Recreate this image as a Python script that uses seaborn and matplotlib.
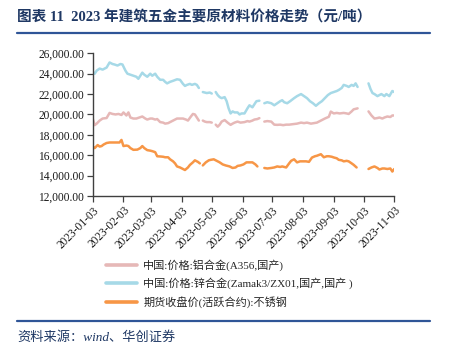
import numpy as np
import pandas as pd
import matplotlib
matplotlib.use("Agg")
import matplotlib.pyplot as plt
import matplotlib.dates as mdates
from matplotlib.lines import Line2D
from matplotlib.ticker import FuncFormatter
import seaborn as sns

# ---------------- data (None marks a break in the line) ----------------
zinc_dates = ["01-03","01-05","01-07","01-10","01-13","01-17","01-20","01-23","01-25","01-28","01-31",
              "02-02","02-05","02-07","02-10","02-13","02-16","02-18","02-20","02-22","02-24","02-27",
              "03-02","03-04","03-07","03-09","03-12","03-15","03-17","03-19","03-22","03-25","03-29",
              "04-01","04-04","04-06","04-08","04-11","04-13","04-16","04-18","04-20","04-22",
              "04-24","04-26","04-28","05-01","05-03","05-05",
              "05-07","05-09","05-11","05-13","05-16","05-18","05-20","05-22","05-24","05-26","05-29",
              "05-31","06-02","06-05","06-08","06-10","06-13","06-15","06-17","06-20","06-22",
              "06-25","06-28","07-02","07-05","07-08","07-11","07-13","07-15","07-18","07-21","07-25",
              "07-28","08-01","08-04","08-07","08-10","08-13","08-16","08-19","08-22","08-25","08-28",
              "08-31","09-03","09-06","09-08","09-11","09-13","09-16","09-18","09-21","09-23","09-25",
              "09-27","10-02",
              "10-08","10-10","10-12","10-14","10-17","10-19","10-21","10-24","10-26","10-29","11-01","11-03"]
zinc_values = [24200,24000,24300,24500,24400,24600,25100,24950,24900,24800,24950,
               24900,24300,24000,23900,23800,23700,23500,23800,24100,23900,23700,
               24000,23800,24000,23700,23400,23400,23200,23050,23200,23300,23450,
               23400,23000,22800,22900,23000,22900,23000,22900,22600,None,
               22200,22150,22100,22150,22050,None,
               22200,21900,21700,21600,21700,21300,20600,20100,20300,20200,20200,
               20000,20100,20100,20600,20900,20700,21000,21300,21350,None,
               21100,21200,21100,20900,21100,21300,21400,21200,21100,21300,21600,
               21800,22000,21800,21600,21300,21100,20850,21100,21300,21600,21900,
               22100,22200,22300,22400,22600,22900,22800,22700,22900,22800,23050,
               22700,None,
               23050,22500,22100,22000,21800,21900,22000,21800,22000,21800,22300,22200]

alu_dates = ["01-03","01-05","01-07","01-10","01-13","01-17","01-20","01-23","01-26","01-29","02-01",
             "02-03","02-06","02-08","02-10","02-13","02-16","02-19","02-22","02-25","02-27",
             "03-02","03-04","03-07","03-09","03-12","03-15","03-17","03-20","03-22","03-25","03-29",
             "04-01","04-04","04-07","04-09","04-12","04-14","04-16","04-18","04-20","04-22",
             "04-24","04-26","04-28","05-01","05-03","05-05",
             "05-07","05-09","05-11","05-13","05-16","05-19","05-22","05-24","05-26","05-29","06-01",
             "06-05","06-08","06-10","06-13","06-15","06-18","06-20","06-22",
             "06-25","06-28","07-02","07-05","07-08","07-11","07-14","07-17","07-20","07-24","07-28",
             "08-01","08-04","08-07","08-11","08-14","08-17","08-20","08-22","08-25","08-29","08-31",
             "09-03","09-06","09-09","09-13","09-16","09-18","09-21","09-23","09-25","09-27","10-02",
             "10-08","10-11","10-14","10-17","10-19","10-22","10-24","10-27","10-30","11-01","11-03"]
alu_values = [19600,18950,19100,19400,19600,19650,20150,20050,20000,20050,19950,
              20200,19900,20200,19700,19600,19600,19700,19800,19600,19500,
              19600,19600,19500,19550,19250,19200,19100,19150,19250,19400,19600,
              19600,19600,19500,19400,19800,20050,20000,19700,19400,None,
              19400,19300,19250,19250,19200,None,
              19000,18800,19000,19300,19450,19200,18980,19100,19200,19300,19200,
              19250,19350,19300,19400,19500,19550,19640,None,
              19300,19350,19300,19000,18980,19000,18950,19000,19000,19050,19100,
              19200,19150,19200,19100,19150,19200,19350,19450,19600,19770,20280,
              20100,20150,20100,20150,20100,20050,20300,20500,20550,20600,None,
              20300,19900,19600,19650,19700,19600,19700,19800,19750,19900,19900]

steel_dates = ["01-03","01-05","01-08","01-10","01-12","01-14","01-17","01-20","01-25","01-30",
               "02-01","02-03","02-06","02-08","02-10","02-13","02-17","02-20","02-22","02-24","02-27",
               "03-02","03-04","03-07","03-09","03-13","03-15","03-17","03-20","03-22","03-25","03-27","03-29",
               "04-01","04-03","04-06","04-09","04-11","04-14","04-16","04-19","04-21","04-22",
               "04-24","04-27","04-30","05-02","05-05","05-09","05-11","05-14","05-17","05-21","05-24",
               "05-27","05-29","06-01","06-04","06-07","06-10","06-13","06-16","06-18","06-22",
               "06-25","06-28","07-02","07-05","07-08","07-11","07-13","07-17","07-20","07-22","07-25",
               "07-28","07-31","08-03","08-06","08-09","08-12","08-15","08-17","08-21","08-24","08-27",
               "08-29","09-01","09-03","09-06","09-08","09-11","09-13","09-16","09-18","09-21","09-23",
               "09-26","10-02",
               "10-08","10-11","10-14","10-17","10-19","10-22","10-24","10-27","10-30","11-01","11-03"]
steel_values = [16860,16700,17000,16850,16900,17050,17200,17250,17250,17250,
                17500,16900,16950,16900,16700,16530,16550,16700,16900,16700,16500,
                16450,16400,16300,15900,15870,15850,15800,15800,15600,15400,15200,14900,
                14800,14700,14550,14800,15050,15300,15500,15350,15200,None,
                15000,15300,15500,15550,15600,15400,15300,15100,15000,14900,14750,
                14800,14950,15000,15100,15300,15300,15300,15100,14900,None,
                14750,14700,14750,14800,14900,14850,14900,14800,15200,15450,15600,
                15300,15400,15400,15400,15350,15770,15900,15950,16100,15800,15900,
                15900,15850,15780,15700,15550,15500,15400,15450,15400,15200,15060,
                14800,None,
                14650,14800,14900,14750,14600,14700,14700,14650,14700,14400,14650]

series_labels = ["中国:价格:铝合金(A356,国产)",
                 "中国:价格:锌合金(Zamak3/ZX01,国产,国产 )",
                 "期货收盘价(活跃合约):不锈钢"]
series_colors = ["#E6B8B7", "#A6D9E7", "#F79646"]
tick_dates = ["2023-01-03","2023-02-03","2023-03-03","2023-04-03","2023-05-03","2023-06-03",
              "2023-07-03","2023-08-03","2023-09-03","2023-10-03","2023-11-03"]
y_ticks = [12000, 14000, 16000, 18000, 20000, 22000, 24000, 26000]

title_text = "图表 11  2023 年建筑五金主要原材料价格走势（元/吨）"
source_text = "资料来源：wind、华创证券"

# ---------------- build long table ----------------
frames = []
for label, dates, vals in [(series_labels[0], alu_dates, alu_values),
                           (series_labels[1], zinc_dates, zinc_values),
                           (series_labels[2], steel_dates, steel_values)]:
    d = pd.DataFrame({"date": pd.to_datetime(["2023-" + s for s in dates]),
                      "value": pd.to_numeric(pd.Series(vals, dtype="float"))})
    d["seg"] = d["value"].isna().cumsum()
    d = d.dropna()
    d["series"] = label
    d["unit"] = label + "_" + d["seg"].astype(str)
    frames.append(d)
df = pd.concat(frames, ignore_index=True)

# ---------------- plot ----------------
sns.set_theme(style="white")
plt.rcParams["font.family"] = ["Liberation Serif", "Noto Sans CJK SC", "DejaVu Sans"]

W, H = 450, 348
fig = plt.figure(figsize=(W / 100, H / 100), dpi=100)
ax = fig.add_axes([92.7 / W, 1 - 196 / H, (394.3 - 92.7) / W, (196 - 53.3) / H])

sns.lineplot(data=df, x="date", y="value", hue="series", units="unit", estimator=None,
             hue_order=series_labels, palette=series_colors, linewidth=1.8,
             legend=False, ax=ax, sort=True)

ax.set_xlim(pd.Timestamp(tick_dates[0]), pd.Timestamp(tick_dates[-1]))
ax.set_ylim(y_ticks[0], y_ticks[-1])
ax.set_yticks(y_ticks)
ax.yaxis.set_major_formatter(FuncFormatter(lambda v, p: f"{v:,.2f}"))
ax.set_xticks(pd.to_datetime(tick_dates))
ax.xaxis.set_major_formatter(mdates.DateFormatter("%Y-%m-%d"))
ax.set_xlabel("")
ax.set_ylabel("")
for s in ["top", "right"]:
    ax.spines[s].set_visible(False)
for s in ["left", "bottom"]:
    ax.spines[s].set_color("#404040")
    ax.spines[s].set_linewidth(1.0)
ax.tick_params(axis="both", direction="out", length=4, width=0.9, color="#404040",
               labelsize=8.3, labelcolor="#1a1a1a", pad=2, left=True, bottom=True)
plt.setp(ax.get_xticklabels(), rotation=45, ha="right", rotation_mode="anchor")
ax.grid(False)

handles = [Line2D([0], [0], color=c, lw=2.6) for c in series_colors]
fig.legend(handles, series_labels, loc="upper left", bbox_to_anchor=(106 / W, 1 - 259 / H),
           frameon=False, fontsize=8, handlelength=2.8, handletextpad=0.55,
           labelspacing=0.6, borderpad=0, borderaxespad=0)

navy = "#1F3864"
line_blue = "#2F5597"
fig.text(17 / W, 1 - 17 / H, title_text, fontsize=10.5, fontweight="bold", color=navy,
         va="center", ha="left")
fig.add_artist(Line2D([17 / W, 430 / W], [1 - 33 / H, 1 - 33 / H], color=line_blue, lw=1.6))
fig.add_artist(Line2D([17 / W, 430 / W], [1 - 320.7 / H, 1 - 320.7 / H], color=line_blue, lw=1.6))
fig.text(17 / W, 1 - 338 / H, source_text, fontsize=9.5, style="italic", color=navy,
         va="center", ha="left")

fig.savefig("out.png", dpi=100)
